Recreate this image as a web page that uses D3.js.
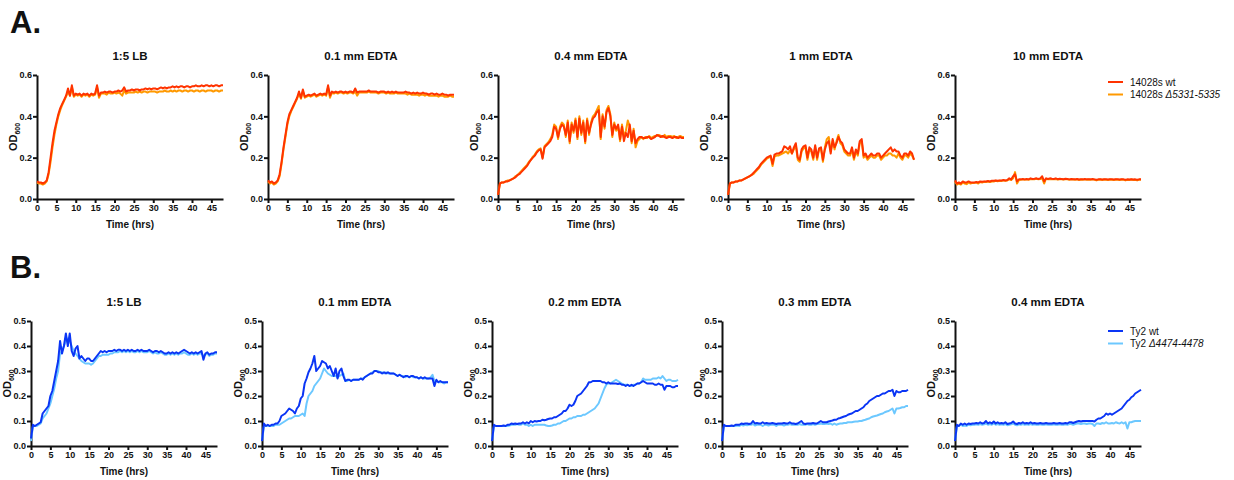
<!DOCTYPE html>
<html lang="en">
<head>
    <meta charset="UTF-8">
    <title>Growth curves</title>
    <style>
        body { margin: 0; background: #fff; }
        svg { display: block; }
        text { font-family: Arial, 'Liberation Sans', sans-serif; fill: #111; }
        .axis path, .axis line { stroke: #111; stroke-width: 2px; }
        .axis text { font-size: 9px; font-weight: bold; }
        .title { font-size: 11.5px; font-weight: bold; }
        .xlabel { font-size: 10px; font-weight: bold; }
        .ylabel { font-size: 11px; font-weight: bold; }
        .legend { font-size: 10px; }
    </style>
</head>
<body>
    <svg id="chart" width="1234" height="480"></svg>

    <script src="https://d3js.org/d3.v7.min.js"></script>
    <script>
        // sampling grid, one reading every 30 min
        const hours = d3.range(0, 48.5, 0.5);

        const titlesA = ["1:5 LB", "0.1 mm EDTA", "0.4 mm EDTA", "1 mm EDTA", "10 mm EDTA"];
        const titlesB = ["1:5 LB", "0.1 mm EDTA", "0.2 mm EDTA", "0.3 mm EDTA", "0.4 mm EDTA"];
        const xTicks = [0, 5, 10, 15, 20, 25, 30, 35, 40, 45];
        const yTicksA = [0, 0.2, 0.4, 0.6];
        const yTicksB = [0, 0.1, 0.2, 0.3, 0.4, 0.5];

        // A. 14028s wt
        const wtA_lb = [
            0.085,0.08,0.08,0.075,0.08,0.09,0.13,0.2,0.27,0.33,
            0.37,0.41,0.44,0.46,0.48,0.5,0.535,0.5,0.55,0.5,
            0.51,0.505,0.51,0.5,0.51,0.505,0.51,0.5,0.51,0.505,
            0.51,0.55,0.5,0.515,0.515,0.52,0.515,0.52,0.52,0.515,
            0.52,0.52,0.525,0.52,0.525,0.54,0.52,0.525,0.525,0.53,
            0.525,0.53,0.53,0.525,0.53,0.53,0.535,0.53,0.535,0.53,
            0.535,0.535,0.53,0.535,0.54,0.535,0.54,0.535,0.54,0.54,
            0.545,0.54,0.545,0.54,0.545,0.545,0.54,0.545,0.545,0.54,
            0.545,0.545,0.55,0.545,0.545,0.55,0.545,0.55,0.55,0.545,
            0.55,0.545,0.55,0.55,0.545,0.55,0.55];
        const wtA_01 = [
            0.09,0.08,0.085,0.075,0.08,0.09,0.12,0.18,0.25,0.31,
            0.37,0.41,0.43,0.45,0.47,0.49,0.52,0.49,0.53,0.495,
            0.5,0.505,0.5,0.505,0.51,0.5,0.505,0.51,0.505,0.51,
            0.505,0.55,0.5,0.52,0.515,0.52,0.515,0.52,0.52,0.515,
            0.52,0.515,0.52,0.52,0.515,0.535,0.515,0.52,0.52,0.52,
            0.52,0.52,0.525,0.52,0.52,0.52,0.52,0.515,0.52,0.52,
            0.52,0.515,0.52,0.515,0.52,0.515,0.52,0.515,0.515,0.515,
            0.515,0.52,0.515,0.515,0.51,0.515,0.51,0.515,0.51,0.51,
            0.515,0.51,0.51,0.505,0.51,0.51,0.505,0.51,0.505,0.505,
            0.51,0.505,0.505,0.5,0.505,0.505,0.505];
        const wtA_04 = [
            0.02,0.075,0.08,0.08,0.085,0.085,0.09,0.095,0.1,0.105,
            0.115,0.12,0.13,0.14,0.15,0.16,0.175,0.19,0.2,0.21,
            0.225,0.235,0.24,0.195,0.25,0.26,0.27,0.28,0.3,0.35,
            0.34,0.3,0.34,0.36,0.35,0.31,0.37,0.28,0.36,0.33,
            0.38,0.3,0.39,0.32,0.37,0.28,0.38,0.32,0.36,0.39,
            0.4,0.42,0.43,0.3,0.4,0.35,0.42,0.44,0.4,0.31,
            0.36,0.34,0.36,0.29,0.35,0.28,0.32,0.3,0.36,0.28,
            0.33,0.27,0.29,0.3,0.3,0.295,0.295,0.3,0.3,0.29,
            0.295,0.3,0.31,0.305,0.3,0.305,0.3,0.295,0.3,0.3,
            0.295,0.3,0.3,0.295,0.3,0.295,0.295];
        const wtA_1 = [
            0.02,0.075,0.08,0.08,0.085,0.085,0.09,0.09,0.095,0.1,
            0.105,0.11,0.115,0.125,0.135,0.145,0.155,0.17,0.18,0.19,
            0.2,0.205,0.21,0.17,0.215,0.22,0.22,0.225,0.23,0.255,
            0.25,0.24,0.255,0.22,0.25,0.27,0.2,0.19,0.24,0.255,
            0.26,0.2,0.25,0.24,0.2,0.26,0.2,0.245,0.25,0.19,
            0.24,0.27,0.28,0.22,0.29,0.25,0.27,0.3,0.28,0.27,
            0.24,0.23,0.22,0.22,0.25,0.2,0.24,0.22,0.28,0.29,
            0.21,0.22,0.2,0.21,0.22,0.21,0.21,0.22,0.22,0.2,
            0.21,0.22,0.23,0.24,0.25,0.23,0.24,0.23,0.23,0.21,
            0.2,0.22,0.22,0.21,0.23,0.22,0.19];
        const wtA_10 = [
            0.09,0.075,0.08,0.075,0.085,0.08,0.08,0.085,0.08,0.08,
            0.08,0.082,0.08,0.085,0.083,0.085,0.085,0.087,0.085,0.088,
            0.088,0.09,0.088,0.09,0.09,0.092,0.09,0.092,0.1,0.095,
            0.11,0.12,0.085,0.095,0.095,0.097,0.095,0.097,0.095,0.1,
            0.097,0.098,0.1,0.097,0.1,0.11,0.085,0.1,0.097,0.1,
            0.098,0.097,0.1,0.096,0.098,0.097,0.096,0.098,0.097,0.095,
            0.097,0.096,0.095,0.097,0.094,0.096,0.095,0.097,0.095,0.096,
            0.095,0.097,0.095,0.093,0.095,0.096,0.094,0.096,0.095,0.094,
            0.096,0.095,0.094,0.096,0.095,0.094,0.096,0.095,0.093,0.095,
            0.094,0.096,0.094,0.095,0.093,0.095,0.095];

        // A. 14028s delta5331-5335
        const mutA_lb = [
            0.08,0.075,0.075,0.07,0.075,0.085,0.12,0.18,0.25,0.31,
            0.36,0.4,0.43,0.455,0.475,0.495,0.52,0.5,0.54,0.495,
            0.505,0.5,0.505,0.495,0.505,0.5,0.505,0.495,0.505,0.5,
            0.505,0.54,0.49,0.51,0.51,0.51,0.505,0.515,0.51,0.51,
            0.515,0.51,0.515,0.51,0.5,0.525,0.51,0.515,0.515,0.515,
            0.515,0.52,0.515,0.52,0.515,0.52,0.52,0.515,0.52,0.52,
            0.52,0.52,0.515,0.52,0.52,0.52,0.525,0.52,0.52,0.525,
            0.52,0.525,0.52,0.525,0.525,0.52,0.525,0.525,0.52,0.525,
            0.525,0.52,0.525,0.525,0.52,0.525,0.525,0.52,0.525,0.525,
            0.525,0.52,0.525,0.525,0.52,0.525,0.525];
        const mutA_01 = [
            0.085,0.075,0.08,0.07,0.075,0.085,0.11,0.17,0.24,0.3,
            0.36,0.4,0.425,0.445,0.465,0.485,0.51,0.485,0.52,0.49,
            0.495,0.5,0.495,0.5,0.505,0.495,0.5,0.505,0.5,0.505,
            0.5,0.54,0.49,0.515,0.51,0.515,0.51,0.515,0.515,0.51,
            0.515,0.51,0.515,0.515,0.51,0.52,0.5,0.515,0.515,0.515,
            0.515,0.515,0.52,0.515,0.515,0.515,0.515,0.51,0.515,0.515,
            0.515,0.51,0.515,0.51,0.51,0.51,0.515,0.51,0.51,0.51,
            0.51,0.51,0.505,0.51,0.505,0.505,0.505,0.505,0.5,0.505,
            0.505,0.5,0.505,0.5,0.5,0.5,0.5,0.5,0.495,0.5,
            0.5,0.495,0.495,0.495,0.5,0.495,0.495];
        const mutA_04 = [
            0.02,0.075,0.08,0.08,0.085,0.09,0.09,0.095,0.1,0.11,
            0.115,0.125,0.135,0.145,0.155,0.165,0.18,0.19,0.205,0.215,
            0.23,0.24,0.245,0.2,0.255,0.265,0.275,0.29,0.31,0.36,
            0.35,0.29,0.35,0.37,0.36,0.3,0.38,0.27,0.37,0.32,
            0.39,0.29,0.4,0.31,0.38,0.27,0.39,0.31,0.37,0.4,
            0.41,0.43,0.45,0.29,0.41,0.34,0.43,0.45,0.41,0.3,
            0.37,0.33,0.35,0.28,0.36,0.3,0.33,0.38,0.35,0.27,
            0.34,0.25,0.28,0.29,0.3,0.29,0.3,0.295,0.305,0.295,
            0.3,0.305,0.305,0.31,0.305,0.3,0.31,0.3,0.305,0.305,
            0.3,0.305,0.295,0.3,0.305,0.3,0.3];
        const mutA_1 = [
            0.02,0.075,0.08,0.08,0.085,0.085,0.09,0.09,0.095,0.1,
            0.105,0.11,0.115,0.12,0.13,0.14,0.15,0.165,0.175,0.185,
            0.195,0.2,0.205,0.16,0.205,0.21,0.21,0.215,0.22,0.225,
            0.23,0.22,0.235,0.22,0.24,0.26,0.19,0.18,0.23,0.245,
            0.25,0.19,0.24,0.23,0.19,0.25,0.19,0.24,0.24,0.18,
            0.25,0.29,0.3,0.23,0.28,0.24,0.28,0.31,0.27,0.26,
            0.23,0.22,0.21,0.21,0.24,0.19,0.23,0.21,0.27,0.28,
            0.2,0.21,0.19,0.2,0.21,0.2,0.2,0.21,0.21,0.19,
            0.2,0.21,0.21,0.22,0.22,0.21,0.21,0.2,0.22,0.2,
            0.19,0.21,0.21,0.2,0.22,0.21,0.19];
        const mutA_10 = [
            0.085,0.07,0.075,0.07,0.08,0.075,0.072,0.08,0.075,0.078,
            0.078,0.08,0.075,0.082,0.08,0.083,0.082,0.085,0.082,0.085,
            0.085,0.088,0.086,0.088,0.087,0.09,0.088,0.09,0.095,0.092,
            0.1,0.13,0.075,0.092,0.093,0.095,0.093,0.095,0.093,0.097,
            0.095,0.096,0.098,0.095,0.097,0.1,0.075,0.098,0.095,0.097,
            0.095,0.095,0.097,0.094,0.096,0.095,0.094,0.095,0.095,0.093,
            0.095,0.094,0.093,0.095,0.092,0.094,0.093,0.095,0.093,0.094,
            0.093,0.095,0.093,0.09,0.093,0.094,0.092,0.094,0.093,0.092,
            0.094,0.093,0.092,0.094,0.093,0.092,0.094,0.093,0.09,0.093,
            0.092,0.094,0.092,0.093,0.09,0.093,0.093];

        // B. Ty2 wt
        const wtB_lb = [
            0.03,0.085,0.08,0.085,0.09,0.095,0.13,0.14,0.15,0.16,
            0.2,0.22,0.26,0.3,0.34,0.42,0.37,0.4,0.45,0.4,
            0.45,0.38,0.36,0.39,0.4,0.35,0.36,0.35,0.34,0.35,
            0.35,0.34,0.34,0.35,0.36,0.37,0.38,0.375,0.38,0.375,
            0.38,0.38,0.38,0.385,0.38,0.385,0.385,0.38,0.385,0.38,
            0.385,0.38,0.385,0.38,0.38,0.385,0.38,0.385,0.38,0.38,
            0.38,0.385,0.38,0.375,0.38,0.38,0.375,0.38,0.375,0.37,
            0.37,0.375,0.37,0.375,0.37,0.375,0.37,0.375,0.38,0.385,
            0.38,0.375,0.37,0.375,0.37,0.375,0.37,0.375,0.38,0.345,
            0.37,0.375,0.365,0.37,0.37,0.375,0.375];
        const wtB_01 = [
            0.02,0.09,0.08,0.085,0.08,0.085,0.085,0.09,0.09,0.1,
            0.12,0.125,0.13,0.14,0.15,0.145,0.14,0.13,0.15,0.16,
            0.19,0.2,0.25,0.27,0.295,0.31,0.33,0.36,0.3,0.31,
            0.32,0.34,0.335,0.33,0.31,0.32,0.3,0.28,0.31,0.27,
            0.3,0.31,0.28,0.26,0.265,0.265,0.26,0.265,0.265,0.265,
            0.265,0.27,0.265,0.275,0.28,0.285,0.29,0.29,0.3,0.3,
            0.295,0.295,0.29,0.295,0.29,0.295,0.29,0.29,0.29,0.285,
            0.28,0.285,0.28,0.275,0.28,0.28,0.275,0.28,0.28,0.275,
            0.275,0.27,0.275,0.27,0.275,0.27,0.27,0.27,0.27,0.24,
            0.265,0.255,0.26,0.255,0.255,0.255,0.255];
        const wtB_02 = [
            0.02,0.085,0.08,0.08,0.08,0.08,0.082,0.08,0.085,0.085,
            0.09,0.088,0.09,0.088,0.09,0.09,0.095,0.09,0.095,0.09,
            0.1,0.095,0.1,0.098,0.1,0.1,0.105,0.103,0.105,0.108,
            0.11,0.11,0.115,0.115,0.12,0.125,0.13,0.14,0.14,0.15,
            0.165,0.16,0.165,0.18,0.2,0.205,0.21,0.22,0.23,0.24,
            0.255,0.255,0.26,0.26,0.26,0.26,0.26,0.255,0.255,0.25,
            0.255,0.25,0.25,0.25,0.25,0.248,0.25,0.245,0.245,0.24,
            0.245,0.24,0.245,0.24,0.245,0.25,0.25,0.255,0.26,0.255,
            0.25,0.25,0.25,0.25,0.245,0.245,0.25,0.245,0.245,0.225,
            0.24,0.24,0.24,0.235,0.235,0.24,0.24];
        const wtB_03 = [
            0.02,0.085,0.08,0.08,0.08,0.082,0.08,0.085,0.085,0.085,
            0.09,0.088,0.09,0.09,0.088,0.09,0.1,0.09,0.092,0.09,
            0.09,0.095,0.09,0.092,0.09,0.09,0.092,0.09,0.088,0.09,
            0.09,0.09,0.092,0.09,0.09,0.095,0.09,0.09,0.088,0.09,
            0.095,0.1,0.09,0.088,0.09,0.09,0.09,0.092,0.09,0.09,
            0.095,0.1,0.095,0.095,0.095,0.098,0.1,0.102,0.105,0.105,
            0.11,0.112,0.115,0.118,0.12,0.125,0.128,0.13,0.135,0.14,
            0.14,0.145,0.15,0.155,0.165,0.17,0.18,0.185,0.19,0.195,
            0.2,0.2,0.205,0.21,0.21,0.215,0.22,0.22,0.225,0.2,
            0.22,0.215,0.215,0.22,0.22,0.22,0.225];
        const wtB_04 = [
            0.02,0.085,0.08,0.09,0.085,0.09,0.085,0.09,0.088,0.09,
            0.09,0.092,0.09,0.095,0.09,0.092,0.1,0.09,0.095,0.09,
            0.098,0.09,0.095,0.09,0.092,0.09,0.095,0.088,0.09,0.092,
            0.098,0.09,0.088,0.092,0.09,0.095,0.09,0.092,0.09,0.095,
            0.09,0.092,0.09,0.09,0.092,0.09,0.09,0.092,0.09,0.09,
            0.09,0.092,0.09,0.09,0.092,0.09,0.09,0.092,0.09,0.095,
            0.095,0.092,0.095,0.098,0.1,0.098,0.1,0.1,0.1,0.1,
            0.1,0.1,0.098,0.105,0.11,0.11,0.115,0.12,0.13,0.125,
            0.13,0.125,0.13,0.135,0.14,0.145,0.15,0.16,0.17,0.18,
            0.185,0.195,0.2,0.21,0.215,0.22,0.225];

        // B. Ty2 delta4474-4478
        const mutB_lb = [
            0.02,0.08,0.08,0.08,0.085,0.09,0.11,0.12,0.13,0.15,
            0.17,0.2,0.23,0.27,0.3,0.37,0.38,0.4,0.42,0.43,
            0.42,0.4,0.38,0.37,0.36,0.35,0.34,0.335,0.33,0.33,
            0.33,0.325,0.33,0.34,0.35,0.36,0.36,0.365,0.365,0.365,
            0.365,0.37,0.37,0.375,0.375,0.375,0.38,0.375,0.38,0.375,
            0.38,0.375,0.38,0.375,0.375,0.38,0.375,0.38,0.375,0.375,
            0.375,0.38,0.375,0.37,0.375,0.37,0.37,0.375,0.37,0.365,
            0.365,0.37,0.365,0.37,0.365,0.37,0.365,0.37,0.37,0.375,
            0.37,0.365,0.365,0.37,0.365,0.37,0.365,0.37,0.37,0.36,
            0.365,0.37,0.36,0.365,0.365,0.37,0.37];
        const mutB_01 = [
            0.02,0.08,0.08,0.08,0.08,0.08,0.08,0.085,0.085,0.085,
            0.09,0.095,0.1,0.105,0.11,0.11,0.115,0.12,0.12,0.12,
            0.125,0.13,0.12,0.17,0.2,0.21,0.22,0.24,0.25,0.26,
            0.27,0.29,0.31,0.3,0.29,0.285,0.28,0.28,0.28,0.275,
            0.28,0.285,0.29,0.26,0.26,0.265,0.26,0.265,0.265,0.265,
            0.265,0.27,0.27,0.275,0.28,0.285,0.29,0.295,0.3,0.3,
            0.3,0.295,0.295,0.29,0.295,0.29,0.29,0.29,0.29,0.285,
            0.28,0.285,0.28,0.28,0.275,0.28,0.275,0.28,0.275,0.275,
            0.275,0.27,0.275,0.27,0.27,0.27,0.27,0.275,0.285,0.26,
            0.26,0.255,0.255,0.255,0.25,0.255,0.255];
        const mutB_02 = [
            0.02,0.08,0.08,0.08,0.08,0.08,0.08,0.08,0.08,0.082,
            0.085,0.085,0.085,0.088,0.085,0.085,0.09,0.085,0.085,0.08,
            0.085,0.08,0.085,0.085,0.085,0.085,0.085,0.085,0.082,0.08,
            0.08,0.082,0.085,0.085,0.09,0.09,0.095,0.1,0.1,0.105,
            0.11,0.11,0.115,0.115,0.12,0.12,0.12,0.125,0.125,0.13,
            0.135,0.14,0.145,0.15,0.16,0.17,0.19,0.21,0.23,0.245,
            0.25,0.25,0.255,0.26,0.265,0.26,0.255,0.25,0.245,0.245,
            0.245,0.24,0.24,0.245,0.245,0.25,0.25,0.255,0.27,0.265,
            0.265,0.265,0.265,0.27,0.27,0.27,0.275,0.27,0.28,0.27,
            0.26,0.265,0.265,0.26,0.26,0.26,0.265];
        const mutB_03 = [
            0.02,0.08,0.08,0.08,0.08,0.08,0.08,0.08,0.082,0.08,
            0.085,0.082,0.085,0.083,0.085,0.085,0.088,0.082,0.085,0.085,
            0.085,0.08,0.085,0.085,0.082,0.085,0.085,0.085,0.08,0.085,
            0.085,0.085,0.082,0.085,0.085,0.088,0.085,0.085,0.085,0.085,
            0.088,0.085,0.085,0.085,0.088,0.085,0.085,0.088,0.085,0.088,
            0.088,0.09,0.088,0.088,0.09,0.088,0.09,0.085,0.09,0.085,
            0.088,0.09,0.09,0.092,0.092,0.095,0.095,0.095,0.097,0.098,
            0.098,0.1,0.1,0.103,0.105,0.108,0.11,0.115,0.118,0.12,
            0.122,0.125,0.128,0.13,0.135,0.138,0.14,0.145,0.15,0.13,
            0.15,0.15,0.152,0.155,0.155,0.16,0.16];
        const mutB_04 = [
            0.02,0.08,0.08,0.085,0.08,0.082,0.08,0.085,0.083,0.085,
            0.085,0.087,0.085,0.088,0.085,0.087,0.09,0.085,0.088,0.085,
            0.09,0.085,0.088,0.085,0.087,0.085,0.088,0.083,0.085,0.087,
            0.09,0.085,0.083,0.087,0.085,0.088,0.085,0.087,0.085,0.088,
            0.085,0.087,0.085,0.085,0.087,0.085,0.085,0.087,0.085,0.085,
            0.085,0.087,0.085,0.085,0.087,0.085,0.085,0.087,0.085,0.088,
            0.088,0.085,0.088,0.09,0.09,0.088,0.09,0.09,0.088,0.09,
            0.09,0.088,0.08,0.09,0.09,0.088,0.092,0.09,0.095,0.09,
            0.09,0.092,0.09,0.095,0.092,0.09,0.095,0.09,0.095,0.07,
            0.095,0.095,0.098,0.1,0.1,0.1,0.1];

        const wtA = [wtA_lb, wtA_01, wtA_04, wtA_1, wtA_10];
        const mutA = [mutA_lb, mutA_01, mutA_04, mutA_1, mutA_10];
        const wtB = [wtB_lb, wtB_01, wtB_02, wtB_03, wtB_04];
        const mutB = [mutB_lb, mutB_01, mutB_02, mutB_03, mutB_04];

        const svg = d3.select("#chart");
        const plotW = 186;

        // one row of five small panels
        function drawRow(opts) {
            opts.lefts.forEach((left, i) => {
                const x = d3.scaleLinear().domain([0, 48]).range([left, left + plotW]);
                const y = d3.scaleLinear().domain([0, opts.yMax]).range([opts.bottom, opts.top]);
                const g = svg.append("g");

                g.append("g")
                    .attr("class", "axis")
                    .attr("transform", `translate(0,${opts.bottom})`)
                    .call(d3.axisBottom(x).tickValues(xTicks).tickSize(4).tickPadding(2).tickSizeOuter(0));

                g.append("g")
                    .attr("class", "axis")
                    .attr("transform", `translate(${left},0)`)
                    .call(d3.axisLeft(y).tickValues(opts.yTicks).tickSize(4).tickPadding(1).tickSizeOuter(0)
                        .tickFormat(d3.format(".1f")));

                const line = d3.line().x((d, j) => x(hours[j])).y(d => y(d));

                g.append("path").datum(opts.mut[i])
                    .attr("fill", "none").attr("stroke", opts.mutColor)
                    .attr("stroke-width", 2).attr("stroke-linejoin", "round")
                    .attr("d", line);
                g.append("path").datum(opts.wt[i])
                    .attr("fill", "none").attr("stroke", opts.wtColor)
                    .attr("stroke-width", 2).attr("stroke-linejoin", "round")
                    .attr("d", line);

                g.append("text").attr("class", "title")
                    .attr("x", left + plotW / 2).attr("y", opts.top - 15)
                    .attr("text-anchor", "middle").text(opts.titles[i]);

                g.append("text").attr("class", "xlabel")
                    .attr("x", left + plotW / 2).attr("y", opts.bottom + 29)
                    .attr("text-anchor", "middle").text("Time (hrs)");

                const yl = g.append("text").attr("class", "ylabel")
                    .attr("transform", `translate(${left - 20},${(opts.top + opts.bottom) / 2}) rotate(-90)`)
                    .attr("text-anchor", "middle");
                yl.append("tspan").text("OD");
                yl.append("tspan").attr("font-size", "7px").attr("dy", "2.5").text("600");
            });
        }

        drawRow({
            lefts: [37, 268, 498, 728, 955], top: 75, bottom: 199, yMax: 0.6, yTicks: yTicksA,
            titles: titlesA, wt: wtA, mut: mutA, wtColor: "#ff3300", mutColor: "#ff9900"
        });
        drawRow({
            lefts: [31, 262, 492, 722, 955], top: 321, bottom: 446, yMax: 0.5, yTicks: yTicksB,
            titles: titlesB, wt: wtB, mut: mutB, wtColor: "#0a35f5", mutColor: "#6cc8ff"
        });

        // panel letters
        svg.append("text").attr("x", 10).attr("y", 33)
            .attr("font-size", "31px").attr("font-weight", "bold").text("A.");
        svg.append("text").attr("x", 10).attr("y", 278)
            .attr("font-size", "31px").attr("font-weight", "bold").text("B.");

        // legends
        function legend(y0, items) {
            items.forEach((it, k) => {
                const yy = y0 + k * 12.5;
                svg.append("line").attr("x1", 1108).attr("x2", 1123).attr("y1", yy).attr("y2", yy)
                    .attr("stroke", it.color).attr("stroke-width", 2);
                const t = svg.append("text").attr("class", "legend")
                    .attr("x", 1130).attr("y", yy).attr("dy", "0.35em");
                t.append("tspan").text(it.name);
                if (it.gene) t.append("tspan").attr("font-style", "italic").text(it.gene);
            });
        }
        legend(82, [
            { name: "14028s wt", color: "#ff3300" },
            { name: "14028s  ", gene: "\u03945331-5335", color: "#ff9900" }
        ]);
        legend(331, [
            { name: "Ty2 wt", color: "#0a35f5" },
            { name: "Ty2 ", gene: "\u03944474-4478", color: "#6cc8ff" }
        ]);
    </script>
</body>
</html>
